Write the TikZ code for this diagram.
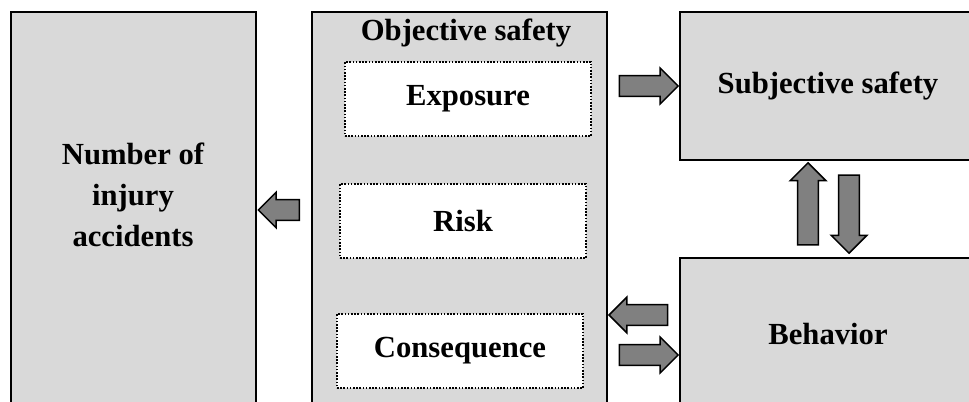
\documentclass[tikz,border=0pt]{standalone}
\usepackage{fontspec}
\setmainfont{Liberation Serif}
\usetikzlibrary{shapes.arrows,positioning,calc}

\definecolor{boxgray}{HTML}{D9D9D9}
\definecolor{arrowgray}{HTML}{808080}

\begin{document}
\begin{tikzpicture}[x=0.75pt,y=-0.75pt,
    every node/.style={font=\fontsize{23}{27}\selectfont\bfseries},
    bigbox/.style={draw=black,line width=1.5pt,fill=boxgray,inner sep=0pt},
    partbox/.style={draw=black,line width=1.2pt,dash pattern=on 1.2pt off 1.2pt,fill=white,
        inner sep=0pt,minimum width=184.5pt,minimum height=55.5pt},
    fatarrow/.style={single arrow,draw=black,line width=1.1pt,fill=arrowgray,
        inner sep=0pt,inner ysep=7.25pt,single arrow head extend=5.6pt,minimum height=#1}]
    \useasboundingbox (0,0) rectangle (969,402);
    \clip (0,0) rectangle (969,402);
    % the four boxes
    \node[bigbox,minimum width=183.75pt,minimum height=321pt] (accid) at (133.5,226) {};
    \node[align=center,font=\fontsize{23}{30.75}\selectfont\bfseries] (accidtext) at (133,195) {Number of\\injury\\accidents};
    \node[bigbox,minimum width=221.25pt,minimum height=321pt] (obj) at (459.5,226) {};
    \node (objtext) at (466,33) {Objective safety};
    \node[bigbox,minimum width=222pt,minimum height=111pt] (subj) at (828,86) {Subjective safety};
    \node[bigbox,minimum width=222pt,minimum height=114pt] (behav) at (828,334) {Behavior};
    % parts of objective safety
    \node[partbox] (expo) at (468,99) {Exposure};
    \node[partbox] (risk) at (463,221) {Risk};
    \node[partbox] (conseq) at (460,351) {Consequence};
    % block arrows
    \node[fatarrow=30.75pt,rotate=180] (toaccid) at ($(accid.east)!0.5!(obj.west)+(0,-16)$) {};
    \node[fatarrow=44pt] (tosubj) at ($(obj.east |- subj)!0.5!(subj.west)$) {};
    \node[fatarrow=61.5pt,rotate=90] (tosubjup) at ($(subj.south)!0.5!(behav.north)+(-20,0)$) {};
    \node[fatarrow=58.5pt,rotate=-90] (tobehavdown) at ($(subj.south)!0.5!(behav.north)+(21,0)$) {};
    \node[fatarrow=44pt,rotate=180] (toobj) at ($(obj.east |- behav)!0.5!(behav.west)+(0,-19)$) {};
    \node[fatarrow=44pt] (tobehav) at ($(obj.east |- behav)!0.5!(behav.west)+(0,21)$) {};
\end{tikzpicture}
\end{document}
